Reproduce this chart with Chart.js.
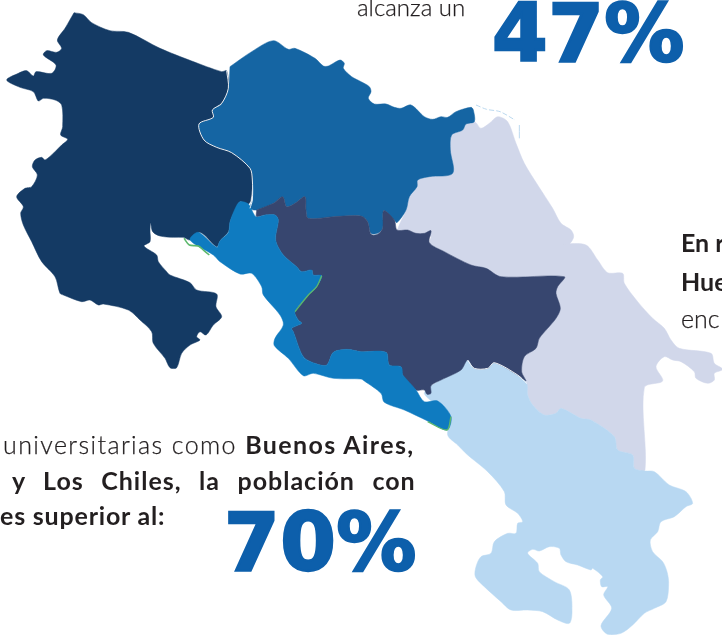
<!DOCTYPE html>
<html lang="es">
<head>
<meta charset="utf-8">
<title>Mapa de regiones</title>
<script src="https://cdn.jsdelivr.net/npm/chart.js@4/dist/chart.umd.min.js"></script>
<style>
  html, body { margin: 0; background: #fff; }
  #wrap { position: relative; width: 722px; height: 635px; overflow: hidden; }
  #mapa { position: absolute; left: 0; top: 0; }
  .txt { position: absolute; white-space: nowrap; color: #231f20; font-family: Lato, sans-serif; font-size: 25px; line-height: 30px; }
  .txt b { font-weight: 700; -webkit-text-stroke: 0; }
  .light { font-weight: 300; -webkit-text-stroke: 0.25px #231f20; }
  .big { position: absolute; white-space: nowrap; color: #0d5fab; font-family: "DejaVu Sans", sans-serif; font-weight: 700; font-size: 80px; line-height: 100px; letter-spacing: 0.5px; -webkit-text-stroke: 2.4px #0d5fab; }
</style>
</head>
<body>
<div id="wrap">
  <canvas id="mapa" width="722" height="635"></canvas>
  <div class="txt light" style="left:357px;top:-8px;font-size:24px;">alcanza un</div>
  <div class="big" style="left:492px;top:-16px;">47%</div>
  <div class="txt" style="left:681px;top:227px;"><b>En r</b></div>
  <div class="txt" style="left:681px;top:266px;"><b>Hue</b></div>
  <div class="txt light" style="left:681px;top:303px;">enc</div>
  <div class="txt" style="left:3px;top:429px;letter-spacing:1.4px;"><span class="light">universitarias como </span><b>Buenos Aires,</b></div>
  <div class="txt" style="left:12px;top:465px;letter-spacing:1px;word-spacing:10.4px;"><b>y Los Chiles, la población con</b></div>
  <div class="txt" style="left:0;top:500px;letter-spacing:.8px;"><b>es superior al:</b></div>
  <div class="big" style="left:224px;top:493px;">70%</div>
</div>
<script>
// contornos en unidades de mapa (ancho 2166, alto 1905), y hacia abajo
const regionGuanacaste = [[222,38],[250,44],[275,68],[330,92],[385,97],[480,145],[575,183],[665,215],[680,212],[685,265],[665,310],[637,330],[640,352],[597,372],[612,420],[650,442],[695,458],[750,505],[757,540],[752,600],[745,612],[720,605],[708,625],[690,665],[685,695],[660,722],[650,740],[600,697],[570,720],[550,712],[520,712],[480,708],[458,695],[452,668],[450,690],[450,725],[432,738],[470,765],[475,785],[500,815],[510,825],[570,848],[590,870],[650,882],[648,920],[665,950],[640,975],[618,1005],[600,995],[590,1010],[600,1020],[570,1035],[545,1060],[530,1103],[510,1103],[495,1075],[460,1030],[455,995],[420,960],[385,930],[310,912],[295,915],[270,900],[245,905],[190,885],[180,880],[165,830],[125,785],[95,725],[70,675],[62,640],[70,620],[50,590],[75,565],[95,560],[112,525],[97,500],[105,480],[125,472],[135,480],[165,455],[185,435],[203,418],[182,405],[188,380],[185,315],[165,300],[130,295],[115,303],[100,275],[60,262],[20,240],[55,220],[80,212],[100,228],[108,215],[155,220],[168,195],[130,165],[140,152],[170,157],[185,145],[172,120],[195,85],[222,38]];
const regionNorte = [[690,200],[755,155],[820,122],[865,148],[885,145],[945,175],[970,198],[985,198],[1020,180],[1033,190],[1030,205],[1055,230],[1083,245],[1108,260],[1113,275],[1105,295],[1123,312],[1158,312],[1183,322],[1203,325],[1233,315],[1273,350],[1298,358],[1323,350],[1343,352],[1368,335],[1413,322],[1420,330],[1423,365],[1398,372],[1388,390],[1355,405],[1351,450],[1358,520],[1288,530],[1253,540],[1251,560],[1228,590],[1218,630],[1191,668],[1183,660],[1151,632],[1148,685],[1133,700],[1113,700],[1103,665],[1083,648],[1000,650],[925,655],[918,630],[915,590],[885,610],[860,620],[848,590],[820,610],[770,630],[750,625],[757,600],[757,540],[750,505],[695,458],[650,442],[612,420],[597,372],[637,352],[637,330],[665,312],[685,265],[690,200]];
const regionCentral = [[770,630],[820,610],[848,590],[860,620],[885,610],[915,590],[918,630],[925,655],[1000,650],[1083,648],[1103,665],[1113,703],[1133,703],[1148,685],[1151,632],[1183,660],[1191,690],[1223,690],[1248,700],[1273,700],[1293,692],[1288,728],[1333,755],[1413,795],[1458,805],[1503,830],[1693,830],[1673,860],[1668,880],[1681,925],[1668,955],[1643,985],[1618,1015],[1608,1045],[1573,1070],[1565,1115],[1578,1143],[1553,1125],[1483,1088],[1463,1105],[1423,1105],[1403,1080],[1383,1110],[1323,1140],[1293,1157],[1293,1180],[1281,1183],[1273,1170],[1248,1170],[1208,1125],[1203,1100],[1168,1095],[1158,1057],[1083,1055],[1040,1048],[1000,1057],[980,1095],[945,1090],[910,1070],[880,995],[875,985],[905,970],[895,960],[885,935],[925,885],[950,860],[965,827],[940,825],[935,810],[905,815],[890,800],[850,765],[827,720],[835,660],[825,645],[795,645],[770,650],[770,630]];
const regionPacifico = [[1208,1125],[1248,1170],[1273,1205],[1313,1203],[1353,1250],[1341,1290],[1283,1263],[1213,1230],[1153,1207],[1143,1180],[1093,1143],[1083,1137],[1000,1135],[940,1120],[910,1127],[865,1075],[823,1037],[825,1015],[850,975],[840,945],[790,885],[785,860],[755,820],[720,822],[660,785],[640,765],[570,720],[595,697],[650,742],[660,722],[685,698],[690,665],[708,620],[720,605],[745,612],[768,650],[795,645],[825,645],[835,660],[827,720],[850,765],[890,800],[905,815],[935,810],[940,825],[965,827],[950,860],[925,885],[885,935],[895,960],[905,970],[875,985],[880,995],[910,1070],[945,1090],[980,1095],[1000,1057],[1040,1048],[1083,1055],[1158,1057],[1168,1095],[1203,1100],[1208,1125]];
const regionCaribe = [[1423,365],[1428,368],[1443,385],[1468,370],[1493,350],[1523,365],[1548,430],[1573,490],[1613,555],[1658,625],[1683,670],[1713,690],[1721,710],[1708,732],[1691,732],[1758,735],[1793,780],[1823,818],[1868,820],[1873,850],[1913,905],[1958,955],[1993,985],[2013,1020],[2038,1045],[2133,1060],[2143,1090],[2166,1105],[2166,1110],[2143,1120],[2143,1140],[2123,1150],[2088,1135],[2083,1115],[2043,1085],[2018,1080],[1993,1070],[1968,1100],[1988,1143],[1933,1163],[1935,1410],[1903,1405],[1898,1365],[1853,1350],[1843,1310],[1773,1260],[1743,1255],[1683,1225],[1668,1240],[1633,1245],[1598,1215],[1583,1185],[1580,1150],[1565,1115],[1573,1070],[1608,1045],[1618,1015],[1643,985],[1668,945],[1681,925],[1668,880],[1673,860],[1693,830],[1503,830],[1458,805],[1413,795],[1333,755],[1288,728],[1293,710],[1273,710],[1223,705],[1191,700],[1218,630],[1228,590],[1251,560],[1253,540],[1288,530],[1358,520],[1351,450],[1355,405],[1388,390],[1398,372],[1423,365]];
const regionBrunca = [[1293,1157],[1323,1140],[1383,1110],[1403,1080],[1423,1105],[1463,1105],[1483,1088],[1553,1125],[1580,1150],[1583,1185],[1598,1215],[1633,1245],[1668,1240],[1683,1225],[1743,1255],[1773,1260],[1843,1310],[1853,1350],[1898,1365],[1903,1405],[1935,1413],[1963,1415],[2008,1455],[2058,1475],[2078,1510],[2058,1520],[2023,1550],[1983,1565],[1973,1595],[1951,1620],[1958,1655],[1988,1685],[2001,1715],[2006,1750],[1998,1805],[1963,1825],[1933,1840],[1898,1875],[1863,1900],[1823,1903],[1803,1877],[1835,1825],[1811,1785],[1823,1760],[1805,1760],[1801,1740],[1808,1730],[1778,1705],[1773,1710],[1733,1695],[1698,1685],[1683,1665],[1678,1645],[1648,1640],[1618,1653],[1598,1648],[1583,1660],[1613,1690],[1618,1715],[1663,1745],[1708,1770],[1716,1835],[1708,1870],[1673,1860],[1628,1835],[1583,1830],[1533,1830],[1503,1805],[1453,1760],[1426,1730],[1428,1700],[1443,1670],[1473,1660],[1483,1625],[1523,1600],[1548,1600],[1553,1570],[1568,1565],[1553,1540],[1518,1515],[1513,1475],[1463,1415],[1403,1365],[1373,1335],[1343,1305],[1353,1250],[1318,1207],[1298,1205],[1273,1180],[1293,1157]];

// detalles finos del dibujo
const bordeVerdeCosta = [[552,715],[568,735],[595,738],[612,752],[628,765]];
const bordeVerdeCentral = [[885,935],[925,885],[950,860],[965,827]];
const bordeVerdeSur = [[1283,1265],[1341,1290],[1353,1250]];
const bordeBlanco = [[680,212],[685,265],[665,310],[637,330],[640,352],[597,372],[612,420],[650,442],[695,458],[750,505],[757,540],[757,600],[750,625]];
const bordeBlancoSur = [[1403,1080],[1423,1105],[1463,1105],[1483,1088],[1553,1125],[1580,1150]];
const bordeClaroSuperior = [[1428,315],[1460,328],[1500,335],[1545,360]];
const bordeClaroLateral = [[1558,375],[1558,415]];

const puntos = pares => pares.map(([x, y]) => ({ x, y }));

function region(pares, color) {
  return {
    data: puntos(pares),
    showLine: true,
    fill: 'shape',
    backgroundColor: color,
    borderColor: color,
    borderWidth: 0.5,
    pointRadius: 0,
    tension: 0.3
  };
}

function trazo(pares, color, ancho, guion) {
  return {
    data: puntos(pares),
    showLine: true,
    fill: false,
    borderColor: color,
    borderWidth: ancho,
    borderDash: guion || [],
    pointRadius: 0,
    tension: 0.3
  };
}

// el primero del arreglo queda encima
new Chart(document.getElementById('mapa'), {
  type: 'scatter',
  data: {
    datasets: [
      trazo(bordeVerdeCosta, '#5cb86c', 1.6),
      trazo(bordeVerdeCentral, '#5cb86c', 1.3),
      trazo(bordeVerdeSur, '#5cb86c', 1.4),
      trazo(bordeBlanco, '#ffffff', 0.9),
      trazo(bordeBlancoSur, '#ffffff', 0.9),
      trazo(bordeClaroSuperior, '#bcd9ef', 1, [5, 2]),
      trazo(bordeClaroLateral, '#bcd9ef', 1),
      region(regionPacifico, '#0f7bc0'),
      region(regionGuanacaste, '#143a64'),
      region(regionCentral, '#37466f'),
      region(regionNorte, '#1565a3'),
      region(regionBrunca, '#b8d8f2'),
      region(regionCaribe, '#d1d7ea')
    ]
  },
  options: {
    responsive: false,
    animation: false,
    layout: { padding: 0 },
    plugins: { legend: { display: false }, tooltip: { enabled: false } },
    scales: {
      x: { type: 'linear', min: 0, max: 2166, display: false },
      y: { type: 'linear', min: 0, max: 1905, reverse: true, display: false }
    }
  }
});
</script>
</body>
</html>
